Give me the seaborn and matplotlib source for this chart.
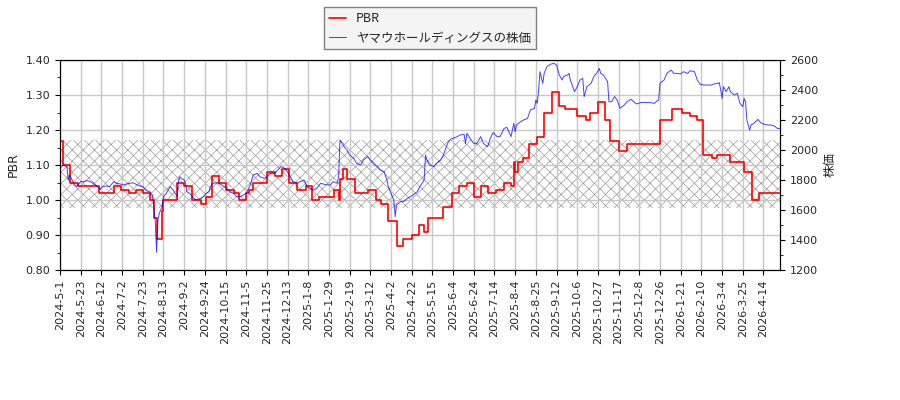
import numpy as np
import matplotlib
matplotlib.use("Agg")
import matplotlib.pyplot as plt
from matplotlib.ticker import MultipleLocator
import seaborn as sns

# x axis: trading-day index, a date label every 15 days
TICK_LABELS = [
    "2024-5-1", "2024-5-23", "2024-6-12", "2024-7-2", "2024-7-23", "2024-8-13",
    "2024-9-2", "2024-9-24", "2024-10-15", "2024-11-5", "2024-11-25", "2024-12-13",
    "2025-1-8", "2025-1-29", "2025-2-19", "2025-3-12", "2025-4-2", "2025-4-22",
    "2025-5-15", "2025-6-4", "2025-6-24", "2025-7-14", "2025-8-4", "2025-8-25",
    "2025-9-12", "2025-10-6", "2025-10-27", "2025-11-17", "2025-12-8", "2025-12-26",
    "2026-1-21", "2026-2-10", "2026-3-4", "2026-3-25", "2026-4-14",
]
TICK_EVERY = 15
LAST_DAY = 522

# PBR (step series: day where a new value starts, value)
pbr_day = [0, 2, 7, 13, 28, 39, 44, 50, 55, 60, 65, 68, 70, 74, 75, 85, 90, 96,
           102, 106, 110, 115, 120, 126, 130, 135, 137, 140, 150, 156, 161, 166,
           172, 178, 183, 188, 199, 202, 203, 205, 208, 214, 223, 229, 233, 238,
           244, 249, 255, 260, 264, 267, 278, 284, 289, 295, 300, 305, 310, 316,
           322, 327, 329, 330, 332, 336, 340, 346, 351, 357, 362, 366, 375, 381,
           384, 390, 395, 399, 405, 411, 435, 444, 451, 457, 462, 466, 473, 476,
           486, 496, 502, 507, 522]
pbr_val = [1.17, 1.10, 1.05, 1.04, 1.02, 1.04, 1.03, 1.02, 1.03, 1.02, 1.00, 0.95,
           0.89, 0.97, 1.00, 1.05, 1.04, 1.00, 0.99, 1.01, 1.07, 1.05, 1.03, 1.02,
           1.00, 1.02, 1.03, 1.05, 1.08, 1.07, 1.09, 1.05, 1.03, 1.04, 1.00, 1.01,
           1.03, 1.00, 1.06, 1.09, 1.06, 1.02, 1.03, 1.00, 0.99, 0.94, 0.87, 0.89,
           0.90, 0.93, 0.91, 0.95, 0.98, 1.02, 1.04, 1.05, 1.01, 1.04, 1.02, 1.03,
           1.05, 1.04, 1.11, 1.08, 1.11, 1.12, 1.16, 1.18, 1.25, 1.31, 1.27, 1.26,
           1.24, 1.23, 1.25, 1.28, 1.23, 1.17, 1.14, 1.16, 1.23, 1.26, 1.25, 1.24,
           1.23, 1.13, 1.12, 1.13, 1.11, 1.08, 1.00, 1.02, 1.02]

# share price
price_day = [0, 2, 5, 6, 7, 10, 12, 15, 17, 19, 22, 24, 27, 29, 31, 34, 36, 39, 41,
             44, 46, 48, 51, 53, 56, 58, 60, 63, 65, 67, 68, 69, 70, 71, 72, 74, 75,
             77, 80, 82, 85, 86, 87, 88, 90, 91, 92, 94, 97, 99, 102, 104, 106, 108,
             109, 111, 114, 116, 119, 121, 123, 126, 128, 131, 133, 135, 138, 140,
             143, 145, 148, 150, 152, 155, 157, 160, 162, 164, 167, 169, 172, 174,
             177, 179, 181, 184, 186, 189, 191, 194, 196, 198, 201, 202, 203, 206,
             208, 210, 213, 215, 218, 220, 223, 225, 227, 230, 232, 235, 237, 238,
             239, 242, 243, 244, 247, 249, 252, 254, 256, 259, 261, 264, 265, 266,
             268, 271, 273, 276, 278, 281, 283, 285, 288, 290, 293, 294, 295, 298,
             300, 302, 305, 307, 310, 312, 314, 317, 319, 322, 324, 327, 329, 330,
             331, 334, 336, 339, 341, 344, 345, 346, 347, 348, 350, 351, 353, 356,
             358, 360, 362, 364, 365, 368, 369, 370, 373, 375, 377, 379, 380, 382,
             385, 387, 389, 391, 392, 394, 397, 398, 400, 402, 404, 406, 409, 411,
             414, 416, 418, 421, 423, 426, 428, 431, 433, 434, 435, 438, 440, 443,
             445, 447, 450, 452, 455, 457, 460, 462, 464, 467, 469, 472, 474, 477,
             478, 479, 480, 481, 483, 485, 486, 489, 491, 493, 495, 496, 497, 498,
             500, 501, 503, 506, 508, 510, 513, 515, 518, 520, 522]
price_val = [1878, 1900, 1889, 1800, 1833, 1778, 1756, 1789, 1789, 1796, 1789, 1778,
             1756, 1738, 1756, 1760, 1756, 1789, 1778, 1773, 1767, 1773, 1778, 1782,
             1767, 1760, 1756, 1729, 1722, 1700, 1622, 1533, 1318, 1533, 1578, 1622,
             1689, 1711, 1756, 1733, 1689, 1800, 1822, 1811, 1800, 1778, 1722, 1711,
             1678, 1667, 1678, 1689, 1711, 1722, 1756, 1778, 1782, 1773, 1756, 1744,
             1722, 1711, 1689, 1689, 1700, 1711, 1767, 1833, 1844, 1822, 1811, 1818,
             1844, 1844, 1856, 1889, 1884, 1867, 1822, 1789, 1778, 1789, 1800, 1756,
             1744, 1733, 1744, 1778, 1773, 1767, 1767, 1789, 1778, 1822, 2067, 2022,
             2000, 1967, 1944, 1911, 1900, 1933, 1956, 1933, 1911, 1889, 1867, 1856,
             1800, 1756, 1733, 1667, 1556, 1633, 1656, 1656, 1678, 1689, 1700, 1722,
             1756, 1800, 1967, 1933, 1900, 1889, 1911, 1933, 1967, 2044, 2071, 2078,
             2089, 2100, 2104, 2044, 2111, 2067, 2044, 2040, 2089, 2044, 2022, 2078,
             2116, 2089, 2089, 2144, 2151, 2089, 2178, 2122, 2167, 2189, 2200, 2211,
             2267, 2278, 2333, 2311, 2400, 2522, 2444, 2511, 2556, 2573, 2578, 2567,
             2500, 2467, 2489, 2500, 2511, 2467, 2389, 2422, 2467, 2478, 2356, 2422,
             2444, 2489, 2511, 2544, 2511, 2500, 2456, 2322, 2322, 2356, 2333, 2278,
             2300, 2322, 2338, 2322, 2307, 2316, 2318, 2316, 2316, 2311, 2329, 2333,
             2444, 2467, 2511, 2533, 2511, 2511, 2507, 2522, 2511, 2529, 2522, 2467,
             2440, 2433, 2433, 2433, 2440, 2444, 2449, 2400, 2344, 2422, 2389, 2422,
             2389, 2367, 2378, 2311, 2289, 2344, 2322, 2200, 2133, 2167, 2178, 2204,
             2182, 2173, 2167, 2167, 2160, 2144, 2144]

# hatched PBR band
band_low, band_high = 0.976, 1.171

sns.set_style("ticks")
plt.rcParams["font.family"] = ["DejaVu Sans", "Noto Sans CJK JP"]
plt.rcParams["hatch.linewidth"] = 0.5

fig = plt.figure(figsize=(9, 4), dpi=100)
ax = fig.add_axes([60 / 900, 130 / 400, 720 / 900, 210 / 400])
ax2 = ax.twinx()

ax.axhspan(band_low, band_high, facecolor="none", edgecolor="#9a9a9a",
           hatch="xxx", lw=0, zorder=0)

sns.lineplot(x=pbr_day, y=pbr_val, ax=ax, color="red", lw=1.2,
             drawstyle="steps-post", label="PBR", legend=False, zorder=3)
sns.lineplot(x=price_day, y=price_val, ax=ax2, color="blue", lw=0.7, alpha=0.75,
             label="ヤマウホールディングスの株価", legend=False)

ticks = np.arange(len(TICK_LABELS)) * TICK_EVERY
ax.set_xlim(0, LAST_DAY)
ax.set_xticks(ticks)
ax.set_xticklabels(TICK_LABELS, rotation=90, fontsize=8)

ax.set_ylim(0.80, 1.40)
ax.yaxis.set_major_locator(MultipleLocator(0.1))
ax.yaxis.set_minor_locator(MultipleLocator(0.05))
ax.set_yticklabels([f"{v:.2f}" for v in ax.get_yticks()], fontsize=8)
ax.set_ylabel("PBR", fontsize=9)

ax2.set_ylim(1200, 2600)
ax2.yaxis.set_major_locator(MultipleLocator(200))
ax2.yaxis.set_minor_locator(MultipleLocator(100))
ax2.tick_params(axis="y", labelsize=8)
ax2.set_ylabel("株価", fontsize=9, family=["Noto Sans CJK JP", "DejaVu Sans"])

ax.grid(True, color="#c8c8c8", lw=1)
ax.set_axisbelow(True)
for a in (ax, ax2):
    for s in a.spines.values():
        s.set_edgecolor("black")
        s.set_visible(True)
    a.tick_params(which="both", direction="out", color="black")
ax.set_xlabel("")

h1, l1 = ax.get_legend_handles_labels()
h2, l2 = ax2.get_legend_handles_labels()
leg = ax.legend(h1 + h2, l1 + l2, loc="lower center", bbox_to_anchor=(0.514, 1.05),
                fancybox=False, facecolor="#f4f4f4", edgecolor="#808080",
                framealpha=1, handlelength=1.3, borderaxespad=0,
                prop={"family": ["Noto Sans CJK JP", "DejaVu Sans"], "size": 9})

fig.savefig("out.png", dpi=100)
